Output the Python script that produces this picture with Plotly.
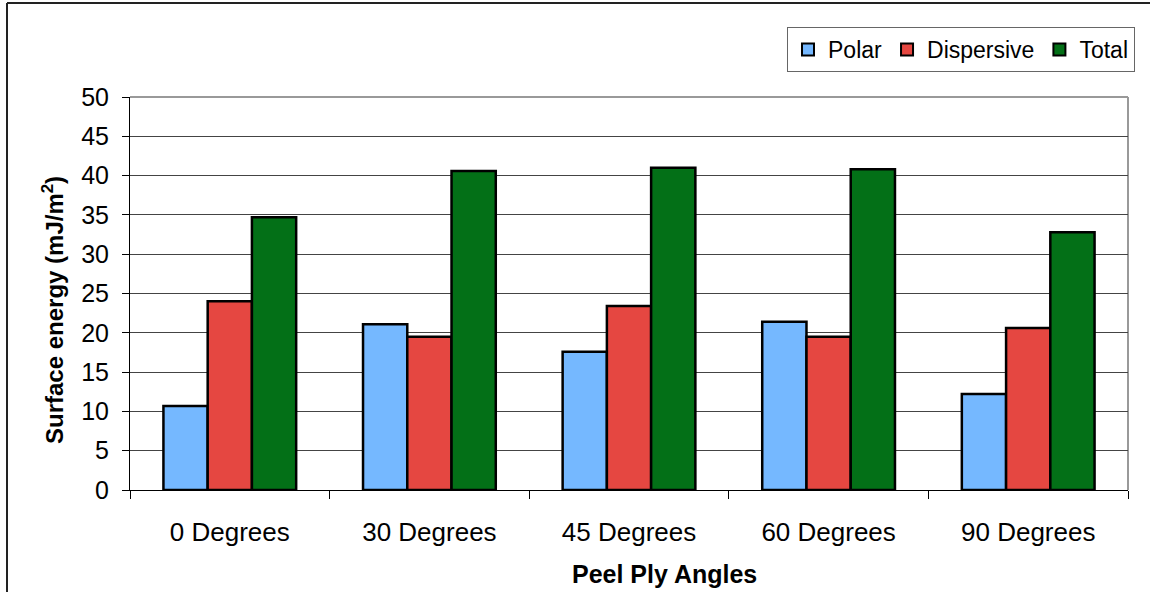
import plotly.graph_objects as go

# Surface energy components per peel ply angle
angles = ["0 Degrees", "30 Degrees", "45 Degrees", "60 Degrees", "90 Degrees"]
polar = [10.7, 21.1, 17.6, 21.4, 12.2]
dispersive = [24.0, 19.5, 23.4, 19.5, 20.6]
total = [34.7, 40.6, 41.0, 40.8, 32.8]

series = [
    ("Polar", polar, "#75B8FF"),
    ("Dispersive", dispersive, "#E54741"),
    ("Total", total, "#037017"),
]

FONT = "Liberation Sans, Arial, sans-serif"

fig = go.Figure()
for name, vals, color in series:
    fig.add_trace(go.Bar(
        name=name, x=angles, y=vals,
        marker=dict(color=color, line=dict(color="#000000", width=2.5)),
    ))

W, H = 1150, 592
L, R, T, B = 130, 22, 97, 102
pw, ph = W - L - R, H - T - B

def px_x(x):
    return (x - L) / pw

def px_y(y):
    return 1 - (y - T) / ph

fig.update_layout(
    width=W, height=H,
    margin=dict(l=L, r=R, t=T, b=B),
    paper_bgcolor="white", plot_bgcolor="white",
    barmode="group", bargap=0.335, bargroupgap=0,
    font=dict(family=FONT, color="#000000", size=25),
    legend=dict(
        orientation="h",
        x=px_x(1135), xanchor="right",
        y=px_y(27), yanchor="top",
        bordercolor="#666666", borderwidth=1,
        font=dict(size=23),
        itemsizing="constant",
    ),
    xaxis=dict(
        type="category",
        showline=True, linecolor="#000000", linewidth=1,
        ticks="outside", tickson="boundaries", ticklen=8, tickcolor="#000000",
        tickfont=dict(size=26),
        ticklabelstandoff=19,
    ),
    yaxis=dict(
        range=[0, 50], dtick=5,
        showline=True, linecolor="#000000", linewidth=1,
        ticks="outside", ticklen=7, tickcolor="#000000",
        showgrid=True, gridcolor="#444444", gridwidth=1,
        zeroline=False,
        tickfont=dict(size=25),
        ticklabelstandoff=8,
    ),
    annotations=[
        dict(text="<b>Peel Ply Angles</b>", xref="paper", yref="paper",
             x=px_x(664), y=px_y(574), xanchor="center", yanchor="middle",
             showarrow=False, font=dict(size=25)),
        dict(text="<b>Surface energy (mJ/m<sup>2</sup>)</b>", xref="paper", yref="paper",
             x=px_x(53), y=px_y(310), xanchor="center", yanchor="middle",
             textangle=-90, showarrow=False, font=dict(size=24)),
    ],
    shapes=[
        # grey border around plot area (top and right)
        dict(type="line", xref="paper", yref="paper", x0=0, x1=1, y0=1, y1=1,
             line=dict(color="#999999", width=2), layer="below"),
        dict(type="line", xref="paper", yref="paper", x0=1, x1=1, y0=0, y1=1,
             line=dict(color="#999999", width=2), layer="below"),
        # outer chart frame
        dict(type="line", xref="paper", yref="paper",
             x0=px_x(7), x1=px_x(7), y0=px_y(3), y1=px_y(600),
             line=dict(color="#222222", width=2)),
        dict(type="line", xref="paper", yref="paper",
             x0=px_x(7), x1=px_x(1160), y0=px_y(3), y1=px_y(3),
             line=dict(color="#222222", width=2)),
    ],
)

fig.write_html("out.html")
